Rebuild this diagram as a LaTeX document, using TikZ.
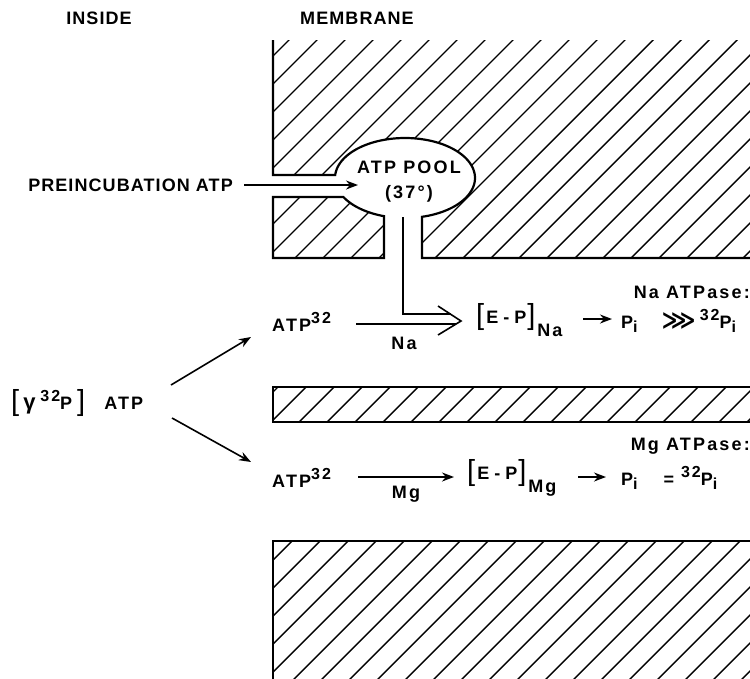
\documentclass[tikz,border=0pt]{standalone}
\usepackage{fontspec}
\setmainfont{Liberation Sans}[LetterSpace=6]
\newfontfamily\dejavu{DejaVu Sans}
\newfontfamily\widefont{Liberation Sans}[LetterSpace=12]
\usetikzlibrary{arrows.meta}
\newcommand\myup[1]{\raisebox{7.5pt}{\fontsize{16}{16}\selectfont #1}}
\newcommand\mydn[2][4pt]{\raisebox{-#1}{\fontsize{16}{16}\selectfont #2}}
\newcommand\lbr{\raisebox{-1.5pt}{\fontsize{29}{29}\selectfont\mdseries[}}
\newcommand\rbr{\raisebox{-1.5pt}{\fontsize{29}{29}\selectfont\mdseries]}}
\newcommand\hatchrect[4]{\begin{scope}\clip (#1,#2) rectangle (#3,#4);
  \foreach \c in {21,49,...,1449} \draw[hatchline] (\c,0) -- (0,\c);
  \end{scope}}
\begin{document}
\begin{tikzpicture}[x=1pt,y=-1pt,
  lbl/.style={font=\fontsize{18}{25}\selectfont\bfseries, inner sep=0pt},
  wlbl/.style={font=\widefont\fontsize{18}{25}\selectfont\bfseries, inner sep=0pt},
  border/.style={line width=2.2pt},
  hatchline/.style={line width=1.4pt},
  thin/.style={line width=1.6pt},
  arr/.style={line width=1.6pt, -{Stealth[length=12pt,width=9pt]}}]
\useasboundingbox (0,0) rectangle (750,678);
% hatching
\hatchrect{273}{40}{752}{258}
\hatchrect{273}{387}{752}{422}
\hatchrect{273}{541}{752}{680}
% openings
\fill[white] (405,178) ellipse [x radius=70, y radius=40];
\fill[white] (270,175) rectangle (350,197);
\fill[white] (384,200) rectangle (422,260);
% borders
\draw[border] (273,40) -- (273,175) -- plot[domain=184.3:436,samples=90] ({405+70*cos(\x)},{178+40*sin(\x)}) -- (422,258) -- (752,258);
\draw[border] (384,258) -- (273,258) -- (273,197) -- plot[domain=151.6:107.5,samples=40] ({405+70*cos(\x)},{178+40*sin(\x)}) -- cycle;
\draw[border] (752,387) -- (273,387) -- (273,422) -- (752,422);
\draw[border] (273,680) -- (273,541) -- (752,541);
% headings
\node[lbl] (inside) at (99,18) {INSIDE};
\node[lbl] (membrane) at (357,18) {MEMBRANE};
% preincubation
\node[lbl, anchor=east] (pre) at (233,185) {PREINCUBATION ATP};
\node[wlbl, align=center] (pool) at (409,182) {ATP POOL\\(37°)};
\coordinate (pooltip) at (358,185);
\draw[arr] (pre.east) ++(11,0) coordinate (prestart) (prestart) -- (pooltip);
% gamma ATP
\node[wlbl, anchor=west] (gam) at (11,403) {\lbr\hspace{4pt}{\fontsize{22}{22}\selectfont γ}\hspace{5pt}\myup{32}P\hspace{5pt}\rbr{}\hspace{19pt}ATP};
\coordinate (g1) at (171,385);
\coordinate (g2) at (172,418);
\node[wlbl, anchor=west] (atpA) at (272,322) {ATP\myup{32}};
\node[wlbl, anchor=west] (atpB) at (272,478) {ATP\myup{32}};
\coordinate (atpAin) at (251,337);
\coordinate (atpBin) at (251,462);
\draw[arr] (g1) -- (atpAin);
\draw[arr] (g2) -- (atpBin);
% Na pathway
\coordinate (naA) at (356,324);
\coordinate (naB) at (456,324);
\coordinate (stemtop) at (403,217);
\coordinate (stembend) at (403,314);
\coordinate (stemend) at (451,314);
\coordinate (tip) at (461,321);
\draw[thin] (naA) -- (naB);
\draw[thin] (stemtop) -- (stembend) -- (stemend);
\draw[thin, line join=miter] (438,306) -- (tip) -- (438,335);
\node[wlbl] (na) at (404,343) {Na};
\node[wlbl, anchor=west] (epna) at (476,320) {\lbr\hspace{2pt}E\hspace{5pt}-\hspace{5pt}P\hspace{1pt}\rbr\hspace{2pt}\raisebox{-13pt}{Na}};
\coordinate (ena) at (583,319);
\coordinate (pna) at (612,319);
\draw[arr] (ena) -- (pna);
\node[wlbl, anchor=west] (pina) at (621,321) {P\mydn{i}\hspace{24pt}{\dejavu\fontsize{24}{24}\selectfont ⋙}\hspace{4pt}\myup{32}P\mydn{i}};
\node[wlbl, anchor=east] (naatp) at (750,292) {Na ATPase:};
% Mg pathway
\coordinate (mgA) at (358,477);
\coordinate (mgB) at (454,477);
\draw[arr] (mgA) -- (mgB);
\node[wlbl] (mg) at (406,494) {Mg};
\node[wlbl, anchor=west] (epmg) at (467,478) {\lbr\hspace{2pt}E\hspace{5pt}-\hspace{5pt}P\hspace{1pt}\rbr\hspace{2pt}\raisebox{-13pt}{Mg}};
\coordinate (emg) at (578,477);
\coordinate (pmg) at (606,477);
\draw[arr] (emg) -- (pmg);
\node[wlbl, anchor=west] (pimg) at (621,478) {P\mydn{i}\hspace{26pt}=\hspace{7pt}\myup{32}P\mydn{i}};
\node[wlbl, anchor=east] (mgatp) at (750,446) {Mg ATPase:};
\end{tikzpicture}
\end{document}
